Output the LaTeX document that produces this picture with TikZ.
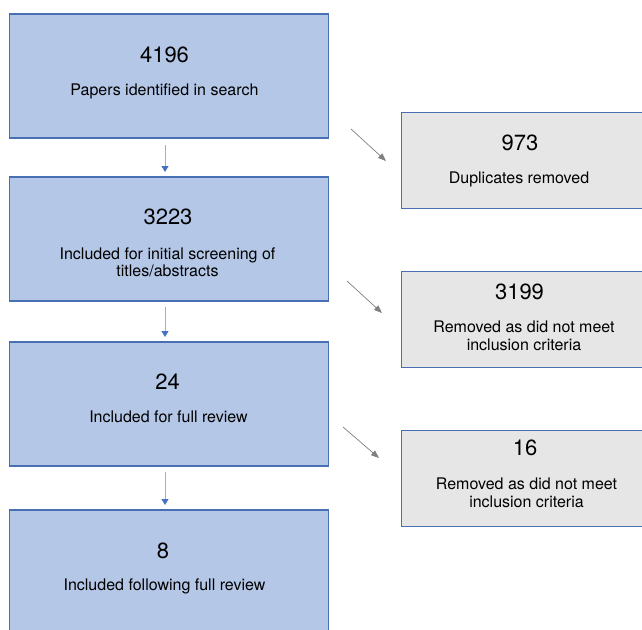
\documentclass[tikz,border=0pt]{standalone}
\usepackage{fontspec}
\setmainfont{TeX Gyre Heros}
\usetikzlibrary{arrows.meta}
\definecolor{stageFill}{RGB}{180,199,231}
\definecolor{stageLine}{RGB}{72,110,180}
\definecolor{dropFill}{RGB}{231,230,230}
\definecolor{flowBlue}{RGB}{68,114,196}
\definecolor{flowGrey}{RGB}{128,128,128}
\tikzset{
  stagebox/.style={draw=stageLine, fill=stageFill, line width=1.1pt, inner sep=0pt, outer sep=0pt, anchor=north west},
  dropbox/.style={draw=stageLine, fill=dropFill, line width=0.9pt, inner sep=0pt, outer sep=0pt, anchor=north west},
  count/.style={anchor=base, inner sep=0pt, font=\fontsize{22}{26}\selectfont},
  caption/.style={anchor=base, inner sep=0pt, font=\fontsize{16}{18}\selectfont},
  downflow/.style={draw=flowBlue!55, line width=0.8pt, -{Triangle[width=7pt,length=6pt,color=flowBlue]}},
  sideflow/.style={draw=flowGrey, line width=0.7pt, -{Triangle[width=6pt,length=8pt]}}
}
\begin{document}
\begin{tikzpicture}[x=1pt,y=-1pt]
\useasboundingbox (0,0) rectangle (642,629);
\clip (0,0) rectangle (642,629);
\fill[white] (0,0) rectangle (642,629);

% main stages
\node[stagebox, minimum width=319pt, minimum height=124pt] (s1) at (9.5,14) {};
\node[stagebox, minimum width=319pt, minimum height=124pt] (s2) at (9.5,177) {};
\node[stagebox, minimum width=319pt, minimum height=124pt] (s3) at (9.5,342) {};
\node[stagebox, minimum width=319pt, minimum height=140pt] (s4) at (9.5,510) {};

% exclusions
\node[dropbox, minimum width=250pt, minimum height=96pt] (d1) at (401,112) {};
\node[dropbox, minimum width=250pt, minimum height=96pt] (d2) at (401,271) {};
\node[dropbox, minimum width=250pt, minimum height=96pt] (d3) at (401,430) {};

% stage texts
\node[count]   (n1) at (164.5,62.5) {4196};
\node[caption] (t1) at (164.5,95) {Papers identified in search};
\node[count]   (n2) at (168,224.5) {3223};
\node[caption] (t2a) at (167.5,259) {Included for initial screening of};
\node[caption] (t2b) at (167.5,276) {titles/abstracts};
\node[count]   (n3) at (167.5,389.5) {24};
\node[caption] (t3) at (168.5,422) {Included for full review};
\node[count]   (n4) at (163,558) {8};
\node[caption] (t4) at (164.5,590) {Included following full review};

% exclusion texts
\node[count]   (m1) at (520,150) {973};
\node[caption] (u1) at (519,183.3) {Duplicates removed};
\node[count]   (m2) at (519.5,299) {3199};
\node[caption] (u2a) at (524,332.7) {Removed as did not meet};
\node[caption] (u2b) at (524,350.7) {inclusion criteria};
\node[count]   (m3) at (525,455) {16};
\node[caption] (u3a) at (526.5,489.3) {Removed as did not meet};
\node[caption] (u3b) at (526.5,507.3) {inclusion criteria};

% arrow ends
\coordinate (a1s) at (165,145);
\coordinate (a1e) at (165,172);
\coordinate (a2s) at (165,307);
\coordinate (a2e) at (165,337);
\coordinate (a3s) at (165,472);
\coordinate (a3e) at (165,505);
\coordinate (b1s) at (351,129);
\coordinate (b1e) at (386,161);
\coordinate (b2s) at (347,281);
\coordinate (b2e) at (382,313);
\coordinate (b3s) at (343,427);
\coordinate (b3e) at (379,458);

\draw[downflow] (a1s) -- (a1e);
\draw[downflow] (a2s) -- (a2e);
\draw[downflow] (a3s) -- (a3e);
\draw[sideflow] (b1s) -- (b1e);
\draw[sideflow] (b2s) -- (b2e);
\draw[sideflow] (b3s) -- (b3e);
\end{tikzpicture}
\end{document}
